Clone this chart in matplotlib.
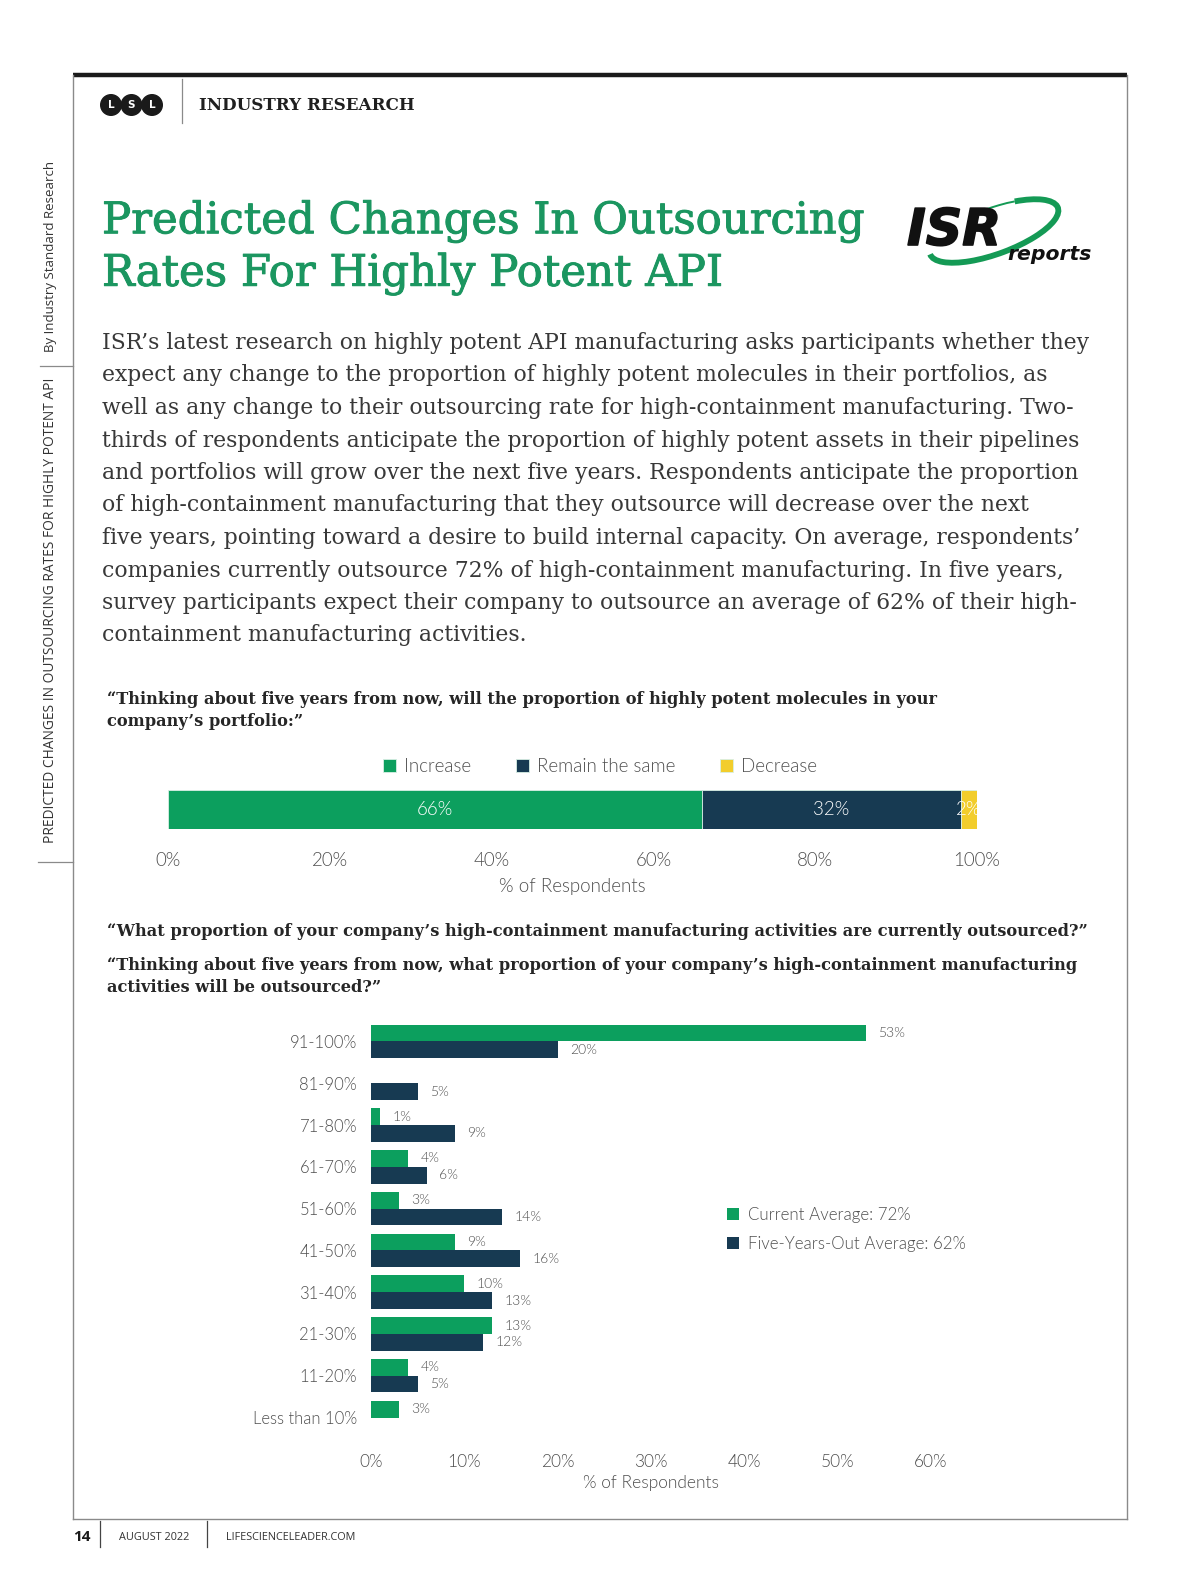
import matplotlib
matplotlib.use("Agg")
import matplotlib.pyplot as plt
from matplotlib.patches import Circle, Arc
import matplotlib.patheffects as pe
import numpy as np

# ---------------- data ----------------
q1_categories = ["Increase", "Remain the same", "Decrease"]
q1_values = [66, 32, 2]

q2_categories = ["91-100%", "81-90%", "71-80%", "61-70%", "51-60%",
                 "41-50%", "31-40%", "21-30%", "11-20%", "Less than 10%"]
q2_current = [53, 0, 1, 4, 3, 9, 10, 13, 4, 3]
q2_five_years = [20, 5, 9, 6, 14, 16, 13, 12, 5, 0]
q2_series = ["Current Average: 72%", "Five-Years-Out Average: 62%"]

q1_ticks = [0, 20, 40, 60, 80, 100]
q2_ticks = [0, 10, 20, 30, 40, 50, 60]

title_lines = ["Predicted Changes In Outsourcing", "Rates For Highly Potent API"]
body_lines = [
    "ISR\u2019s latest research on highly potent API manufacturing asks participants whether they",
    "expect any change to the proportion of highly potent molecules in their portfolios, as",
    "well as any change to their outsourcing rate for high-containment manufacturing. Two-",
    "thirds of respondents anticipate the proportion of highly potent assets in their pipelines",
    "and portfolios will grow over the next five years. Respondents anticipate the proportion",
    "of high-containment manufacturing that they outsource will decrease over the next",
    "five years, pointing toward a desire to build internal capacity. On average, respondents\u2019",
    "companies currently outsource 72% of high-containment manufacturing. In five years,",
    "survey participants expect their company to outsource an average of 62% of their high-",
    "containment manufacturing activities.",
]
q1_text = ["\u201cThinking about five years from now, will the proportion of highly potent molecules in your",
           "company\u2019s portfolio:\u201d"]
q2_text = ["\u201cWhat proportion of your company\u2019s high-containment manufacturing activities are currently outsourced?\u201d"]
q3_text = ["\u201cThinking about five years from now, what proportion of your company\u2019s high-containment manufacturing",
           "activities will be outsourced?\u201d"]

# ---------------- style ----------------
GREEN = "#0c9f5e"
NAVY = "#173a52"
YELLOW = "#f2cd2c"
TITLE_GREEN = "#1b9660"
BODY = "#383838"
CHART_TXT = "#4f4f4f"
SERIF = "DejaVu Serif"
SANS = "Lato"
SANS_W = 300

W, H = 1200, 1593
fig = plt.figure(figsize=(W / 100, H / 100), dpi=100)
fig.patch.set_facecolor("white")
renderer = fig.canvas.get_renderer()


def rect(l, t, r, b):
    return [l / W, 1 - b / H, (r - l) / W, (b - t) / H]


ov = fig.add_axes([0, 0, 1, 1])
ov.set_xlim(0, W)
ov.set_ylim(H, 0)
ov.axis("off")


def fit(t, width):
    bb = t.get_window_extent(renderer)
    t.set_fontsize(t.get_fontsize() * width / bb.width)
    return t.get_fontsize()


def txt(x, y, s, **kw):
    return ov.text(x, y, s, **kw)

# ---------------- frame ----------------
ov.plot([73, 1127], [75, 75], color="#1a1a1a", lw=3.2, solid_capstyle="butt")
ov.plot([73, 73], [75, 1519], color="#8a8a8a", lw=1)
ov.plot([1127, 1127], [75, 1519], color="#8a8a8a", lw=1)
ov.plot([73, 1127], [1519, 1519], color="#8a8a8a", lw=1)
ov.plot([182, 182], [79, 123], color="#8a8a8a", lw=0.9)
ov.plot([40, 73], [366, 366], color="#8a8a8a", lw=0.9)
ov.plot([38, 73], [862, 862], color="#8a8a8a", lw=0.9)

# LSL logo
for cx, letter in zip([111, 131.5, 152], ["L", "S", "L"]):
    ov.add_patch(Circle((cx, 105), 10.3, color="#1a1a1a"))
    txt(cx, 105.5, letter, color="white", fontsize=7.5, fontweight="bold",
        ha="center", va="center", family="DejaVu Sans")
t = txt(199, 105, "INDUSTRY RESEARCH", fontsize=14, fontweight="bold",
        family=SERIF, color="#1f1f1f", va="center", ha="left")
fit(t, 216)

# side texts
t = txt(51, 256, "By Industry Standard Research", rotation=90, ha="center",
        va="center", family="Open Sans", color="#333333", fontsize=9.5)
bb = t.get_window_extent(renderer)
t.set_fontsize(t.get_fontsize() * 193 / bb.height)
t = txt(51, 610, "PREDICTED CHANGES IN OUTSOURCING RATES FOR HIGHLY POTENT API",
        rotation=90, ha="center", va="center", family="Open Sans",
        color="#333333", fontsize=9.5)
bb = t.get_window_extent(renderer)
t.set_fontsize(t.get_fontsize() * 463 / bb.height)

# ISR logo (screen angles flipped because y axis is inverted)
ov.add_patch(Arc((994, 231), 136, 46, angle=-20, theta1=-35, theta2=180,
                 color="#149a55", lw=4.2))
ov.add_patch(Arc((994, 231), 136, 46, angle=-20, theta1=262, theta2=325,
                 color="#149a55", lw=1.4))
t = txt(907, 231, "ISR", fontsize=30, fontweight="heavy", style="italic",
        family="DejaVu Sans", color="#111111", va="center", ha="left",
        path_effects=[pe.withStroke(linewidth=1.2, foreground="#111111")])
fit(t, 94)
t = txt(1007, 255, "reports", fontsize=12, fontweight="bold", style="italic",
        family="DejaVu Sans", color="#111111", va="center", ha="left")
fit(t, 84)

# title
tstroke = [pe.withStroke(linewidth=0.7, foreground=TITLE_GREEN)]
t0 = txt(102, 221.5, title_lines[0], fontsize=36, family=SERIF, color=TITLE_GREEN,
         va="center", ha="left", path_effects=tstroke)
fs = fit(t0, 762)
txt(102, 274, title_lines[1], fontsize=fs, family=SERIF, color=TITLE_GREEN,
    va="center", ha="left", path_effects=tstroke)

# body
body_y = [343, 375.5, 408, 440.5, 473, 505.5, 538, 570.5, 603, 635.5]
tb = txt(102, body_y[0], body_lines[0], fontsize=18, family=SERIF, color=BODY,
         va="center", ha="left")
fs = fit(tb, 987)
for yy, line in zip(body_y[1:], body_lines[1:]):
    txt(102, yy, line, fontsize=fs, family=SERIF, color=BODY, va="center", ha="left")

# question texts
QC = "#262626"
tq = txt(107, 700, q1_text[0], fontsize=13, fontweight="bold", family=SERIF,
         color=QC, va="center", ha="left")
qfs = fit(tq, 832)
txt(107, 721.5, q1_text[1], fontsize=qfs, fontweight="bold", family=SERIF,
    color=QC, va="center", ha="left")
txt(107, 931, q2_text[0], fontsize=qfs, fontweight="bold", family=SERIF,
    color=QC, va="center", ha="left")
txt(107, 966, q3_text[0], fontsize=qfs, fontweight="bold", family=SERIF,
    color=QC, va="center", ha="left")
txt(107, 987.5, q3_text[1], fontsize=qfs, fontweight="bold", family=SERIF,
    color=QC, va="center", ha="left")

# footer
txt(73, 1537, "14", fontsize=11, fontweight="bold", family="Open Sans",
    color="#1a1a1a", va="center", ha="left")
ov.plot([100, 100], [1521, 1547], color="#444444", lw=0.9)
ov.plot([207, 207], [1521, 1547], color="#444444", lw=0.9)
t = txt(119, 1537, "AUGUST 2022", fontsize=8, family="Open Sans", color="#333333",
        va="center", ha="left")
fit(t, 70)
t = txt(226, 1537, "LIFESCIENCELEADER.COM", fontsize=8, family="Open Sans",
        color="#333333", va="center", ha="left")
fit(t, 131)

# ---------------- chart 1 ----------------
ax1 = fig.add_axes(rect(168, 790.5, 977, 829))
left = 0
colors1 = [GREEN, NAVY, YELLOW]
for cat, val, col in zip(q1_categories, q1_values, colors1):
    ax1.barh([0], [val], left=left, height=1.0, color=col, label=cat,
             edgecolor="#d8efe4", linewidth=0.6)
    ax1.text(left + val / 2, 0, f"{val}%", color="white", ha="center",
             va="center", fontsize=13.5, family=SANS, fontweight=SANS_W, clip_on=True)
    left += val
ax1.set_xlim(0, 100)
ax1.set_ylim(-0.5, 0.5)
ax1.set_yticks([])
ax1.set_xticks(q1_ticks)
ax1.set_xticklabels([f"{v}%" for v in q1_ticks], family=SANS, fontsize=13.5,
                    color=CHART_TXT, fontweight=SANS_W)
ax1.tick_params(axis="x", length=0, pad=16.5)
for s in ax1.spines.values():
    s.set_visible(False)
ax1.set_xlabel("% of Respondents", family=SANS, fontsize=13.5, color=CHART_TXT,
               labelpad=6.5, fontweight=SANS_W)
leg1 = ax1.legend(loc="center", bbox_to_anchor=(600 / W, 1 - 766.5 / H),
                  bbox_transform=fig.transFigure, ncol=3, frameon=False,
                  handlelength=0.7, handleheight=0.7, handletextpad=0.4,
                  columnspacing=2.4, borderpad=0,
                  prop={"family": SANS, "size": 13.5, "weight": SANS_W})
for tx in leg1.get_texts():
    tx.set_color(CHART_TXT)

# ---------------- chart 2 ----------------
ax2 = fig.add_axes(rect(371, 1020.6, 931, 1438.4))
ypos = np.arange(len(q2_categories))
bh = 0.4
ax2.barh(ypos - bh / 2, q2_current, height=bh, color=GREEN, label=q2_series[0])
ax2.barh(ypos + bh / 2, q2_five_years, height=bh, color=NAVY, label=q2_series[1])
for y, v in zip(ypos, q2_current):
    if v > 0:
        ax2.annotate(f"{v}%", (v, y - bh / 2), xytext=(9, 0), textcoords="offset points",
                     va="center", ha="left", fontsize=10, family=SANS,
                     fontweight=SANS_W, color=CHART_TXT)
for y, v in zip(ypos, q2_five_years):
    if v > 0:
        ax2.annotate(f"{v}%", (v, y + bh / 2), xytext=(9, 0), textcoords="offset points",
                     va="center", ha="left", fontsize=10, family=SANS,
                     fontweight=SANS_W, color=CHART_TXT)
ax2.set_xlim(0, 60)
ax2.set_ylim(len(q2_categories) - 0.5, -0.5)
ax2.set_yticks(ypos)
ax2.set_yticklabels(q2_categories, family=SANS, fontsize=12, color=CHART_TXT,
                    fontweight=SANS_W)
ax2.set_xticks(q2_ticks)
ax2.set_xticklabels([f"{v}%" for v in q2_ticks], family=SANS, fontsize=12.5,
                    color=CHART_TXT, fontweight=SANS_W)
ax2.tick_params(axis="x", length=0, pad=11.5)
ax2.tick_params(axis="y", length=0, pad=10)
for s in ax2.spines.values():
    s.set_visible(False)
ax2.set_xlabel("% of Respondents", family=SANS, fontsize=12.5, color=CHART_TXT,
               labelpad=3, fontweight=SANS_W)
leg2 = ax2.legend(loc="upper left", bbox_to_anchor=(727 / W, 1 - 1207 / H),
                  bbox_transform=fig.transFigure, ncol=1, frameon=False,
                  handlelength=0.7, handleheight=0.7, handletextpad=0.55,
                  labelspacing=0.75, borderpad=0, borderaxespad=0,
                  prop={"family": SANS, "size": 12.2, "weight": SANS_W})
for tx in leg2.get_texts():
    tx.set_color(CHART_TXT)

fig.savefig("out.png", dpi=100, facecolor="white")
